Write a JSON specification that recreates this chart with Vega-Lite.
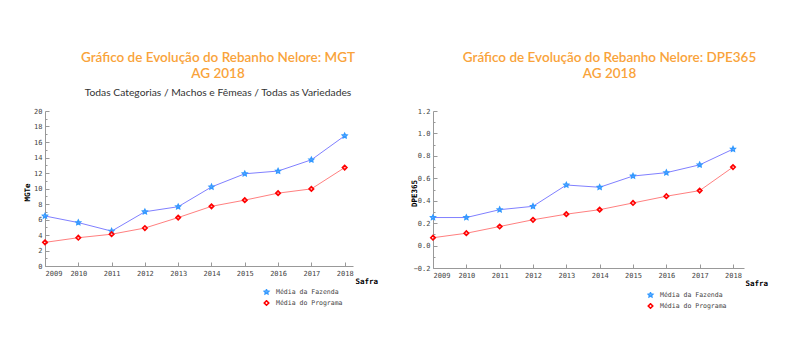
{
  "$schema": "https://vega.github.io/schema/vega-lite/v6.json",
  "background": "white",
  "padding": {"left": 23, "top": 50, "right": 5, "bottom": 5},
  "spacing": 32,
  "datasets": {
    "mgt": [
      {"ano": 2009, "serie": "Média da Fazenda", "valor": 6.45},
      {"ano": 2010, "serie": "Média da Fazenda", "valor": 5.6},
      {"ano": 2011, "serie": "Média da Fazenda", "valor": 4.5},
      {"ano": 2012, "serie": "Média da Fazenda", "valor": 7.0},
      {"ano": 2013, "serie": "Média da Fazenda", "valor": 7.65},
      {"ano": 2014, "serie": "Média da Fazenda", "valor": 10.2},
      {"ano": 2015, "serie": "Média da Fazenda", "valor": 11.9},
      {"ano": 2016, "serie": "Média da Fazenda", "valor": 12.25},
      {"ano": 2017, "serie": "Média da Fazenda", "valor": 13.7},
      {"ano": 2018, "serie": "Média da Fazenda", "valor": 16.8},
      {"ano": 2009, "serie": "Média do Programa", "valor": 3.05},
      {"ano": 2010, "serie": "Média do Programa", "valor": 3.65},
      {"ano": 2011, "serie": "Média do Programa", "valor": 4.1},
      {"ano": 2012, "serie": "Média do Programa", "valor": 4.9},
      {"ano": 2013, "serie": "Média do Programa", "valor": 6.25},
      {"ano": 2014, "serie": "Média do Programa", "valor": 7.7},
      {"ano": 2015, "serie": "Média do Programa", "valor": 8.5},
      {"ano": 2016, "serie": "Média do Programa", "valor": 9.4},
      {"ano": 2017, "serie": "Média do Programa", "valor": 9.95},
      {"ano": 2018, "serie": "Média do Programa", "valor": 12.7}
    ],
    "dpe": [
      {"ano": 2009, "serie": "Média da Fazenda", "valor": 0.25},
      {"ano": 2010, "serie": "Média da Fazenda", "valor": 0.25},
      {"ano": 2011, "serie": "Média da Fazenda", "valor": 0.32},
      {"ano": 2012, "serie": "Média da Fazenda", "valor": 0.35},
      {"ano": 2013, "serie": "Média da Fazenda", "valor": 0.54},
      {"ano": 2014, "serie": "Média da Fazenda", "valor": 0.52},
      {"ano": 2015, "serie": "Média da Fazenda", "valor": 0.62},
      {"ano": 2016, "serie": "Média da Fazenda", "valor": 0.65},
      {"ano": 2017, "serie": "Média da Fazenda", "valor": 0.72},
      {"ano": 2018, "serie": "Média da Fazenda", "valor": 0.86},
      {"ano": 2009, "serie": "Média do Programa", "valor": 0.07},
      {"ano": 2010, "serie": "Média do Programa", "valor": 0.11},
      {"ano": 2011, "serie": "Média do Programa", "valor": 0.17},
      {"ano": 2012, "serie": "Média do Programa", "valor": 0.23},
      {"ano": 2013, "serie": "Média do Programa", "valor": 0.28},
      {"ano": 2014, "serie": "Média do Programa", "valor": 0.32},
      {"ano": 2015, "serie": "Média do Programa", "valor": 0.38},
      {"ano": 2016, "serie": "Média do Programa", "valor": 0.44},
      {"ano": 2017, "serie": "Média do Programa", "valor": 0.49},
      {"ano": 2018, "serie": "Média do Programa", "valor": 0.70}
    ]
  },
  "config": {
    "view": {"stroke": null},
    "axis": {
      "domainColor": "#999999",
      "tickColor": "#999999",
      "grid": false,
      "labelFont": "DejaVu Sans Mono",
      "labelFontSize": 7,
      "labelColor": "#444444",
      "titleFont": "DejaVu Sans Mono",
      "titleFontSize": 7.5,
      "titleFontWeight": "bold",
      "titleColor": "#000000",
      "tickSize": -4,
      "labelPadding": 7
    },
    "legend": {
      "labelFont": "DejaVu Sans Mono",
      "labelFontSize": 6.5,
      "labelColor": "#444444"
    },
    "title": {
      "font": "Lato",
      "fontSize": 13.5,
      "fontWeight": 600,
      "color": "#F9A33A",
      "lineHeight": 16,
      "anchor": "middle",
      "frame": "group",
      "subtitleFont": "Lato",
      "subtitleFontSize": 10.3,
      "subtitleColor": "#333333",
      "subtitlePadding": 7
    }
  },
  "resolve": {"scale": {"color": "independent", "shape": "independent"}, "legend": {"color": "independent", "shape": "independent"}},
  "hconcat": [
    {
      "title": {"text": ["Gráfico de Evolução do Rebanho Nelore: MGT", "AG 2018"], "subtitle": "Todas Categorias / Machos e Fêmeas / Todas as Variedades", "dx": 19, "offset": 9},
      "width": 308,
      "height": 155,
      "data": {"name": "mgt"},
      "resolve": {"axis": {"y": "independent"}},
      "encoding": {
        "x": {"field": "ano", "type": "quantitative", "scale": {"domain": [2009, 2018.25], "nice": false, "zero": false},
              "axis": {"title": "Safra", "values": [2009, 2010, 2011, 2012, 2013, 2014, 2015, 2016, 2017, 2018], "format": "d", "titleX": 310, "titleY": 15, "titleAlign": "left", "titleBaseline": "middle"}}
      },
      "layer": [
        {
          "mark": {"type": "line", "strokeWidth": 1},
          "encoding": {
            "y": {"field": "valor", "type": "quantitative", "scale": {"domain": [0, 20], "nice": false},
                  "axis": {"title": "MGTe", "values": [0, 2, 4, 6, 8, 10, 12, 14, 16, 18, 20], "format": "d", "titleX": -18, "titleY": 81, "titleBaseline": "middle", "titleAlign": "center"}},
            "detail": {"field": "serie", "type": "nominal"},
            "stroke": {"condition": {"test": "datum.serie === 'Média da Fazenda'", "value": "#8080ff"}, "value": "#ff8080"}
          }
        },
        {
          "mark": {"type": "point", "filled": false, "strokeWidth": 1.6, "size": 20, "opacity": 1},
          "encoding": {
            "y": {"field": "valor", "type": "quantitative",
                  "axis": {"orient": "left", "title": null, "labels": false, "domain": false, "values": [1, 3, 5, 7, 9, 11, 13, 15, 17, 19], "tickSize": -2}},
            "color": {"field": "serie", "type": "nominal", "scale": {"domain": ["Média da Fazenda", "Média do Programa"], "range": ["#3399ff", "#ff0000"]},
                      "legend": {"title": null, "orient": "none", "legendX": 218, "legendY": 178, "labelOffset": 6, "rowPadding": 4, "clipHeight": 6, "symbolSize": 20, "symbolStrokeWidth": 1.6}},
            "shape": {"field": "serie", "type": "nominal", "scale": {"domain": ["Média da Fazenda", "Média do Programa"], "range": ["M0,-1L0.29,-0.4L0.95,-0.31L0.48,0.15L0.59,0.81L0,0.5L-0.59,0.81L-0.48,0.15L-0.95,-0.31L-0.29,-0.4Z", "diamond"]},
                      "legend": {"title": null, "orient": "none", "legendX": 218, "legendY": 178}}
          }
        }
      ]
    },
    {
      "title": {"text": ["Gráfico de Evolução do Rebanho Nelore: DPE365", "AG 2018"], "dx": 21, "offset": 27},
      "width": 311,
      "height": 157,
      "data": {"name": "dpe"},
      "resolve": {"axis": {"y": "independent"}},
      "encoding": {
        "x": {"field": "ano", "type": "quantitative", "scale": {"domain": [2009, 2018.33], "nice": false, "zero": false},
              "axis": {"title": "Safra", "values": [2009, 2010, 2011, 2012, 2013, 2014, 2015, 2016, 2017, 2018], "format": "d", "titleX": 312, "titleY": 15, "titleAlign": "left", "titleBaseline": "middle"}}
      },
      "layer": [
        {
          "mark": {"type": "line", "strokeWidth": 1},
          "encoding": {
            "y": {"field": "valor", "type": "quantitative", "scale": {"domain": [-0.2, 1.2], "nice": false, "zero": false},
                  "axis": {"title": "DPE365", "values": [-0.2, 0, 0.2, 0.4, 0.6, 0.8, 1.0, 1.2], "format": ".1f", "titleX": -19, "titleY": 82, "titleBaseline": "middle", "titleAlign": "center"}},
            "detail": {"field": "serie", "type": "nominal"},
            "stroke": {"condition": {"test": "datum.serie === 'Média da Fazenda'", "value": "#8080ff"}, "value": "#ff8080"}
          }
        },
        {
          "mark": {"type": "point", "filled": false, "strokeWidth": 1.6, "size": 20, "opacity": 1},
          "encoding": {
            "y": {"field": "valor", "type": "quantitative",
                  "axis": {"orient": "left", "title": null, "labels": false, "domain": false, "values": [-0.1, 0.1, 0.3, 0.5, 0.7, 0.9, 1.1], "tickSize": -2}},
            "color": {"field": "serie", "type": "nominal", "scale": {"domain": ["Média da Fazenda", "Média do Programa"], "range": ["#3399ff", "#ff0000"]},
                      "legend": {"title": null, "orient": "none", "legendX": 214, "legendY": 181, "labelOffset": 6, "rowPadding": 4, "clipHeight": 6, "symbolSize": 20, "symbolStrokeWidth": 1.6}},
            "shape": {"field": "serie", "type": "nominal", "scale": {"domain": ["Média da Fazenda", "Média do Programa"], "range": ["M0,-1L0.29,-0.4L0.95,-0.31L0.48,0.15L0.59,0.81L0,0.5L-0.59,0.81L-0.48,0.15L-0.95,-0.31L-0.29,-0.4Z", "diamond"]},
                      "legend": {"title": null, "orient": "none", "legendX": 214, "legendY": 181}}
          }
        }
      ]
    }
  ]
}
